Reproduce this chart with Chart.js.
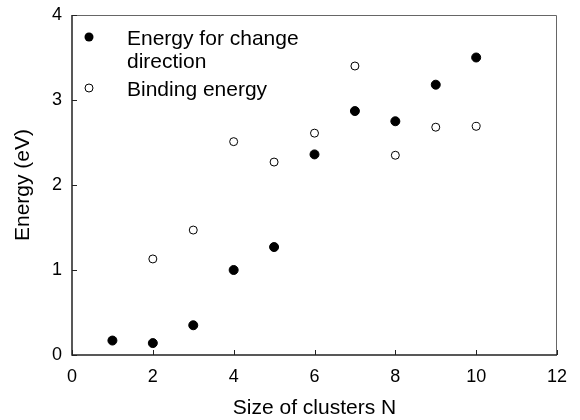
<!DOCTYPE html>
<html lang="en">
<head>
    <meta charset="UTF-8">
    <title>Energy vs cluster size</title>
    <script src="https://cdn.jsdelivr.net/npm/chart.js"></script>
    <style>
        html, body { margin: 0; padding: 0; background: #fff; }
        #wrap { width: 580px; height: 420px; }
    </style>
</head>
<body>
    <div id="wrap"><canvas id="energyChart"></canvas></div>
    <script>
        // data
        const clusterSize = [1, 2, 3, 4, 5, 6, 7, 8, 9, 10];
        const changeDirEnergy = [0.17, 0.14, 0.35, 1.00, 1.27, 2.36, 2.87, 2.75, 3.18, 3.50];
        const bindingSize = [2, 3, 4, 5, 6, 7, 8, 9, 10];
        const bindingEnergy = [1.13, 1.47, 2.51, 2.27, 2.61, 3.40, 2.35, 2.68, 2.69];
        const xTicks = [0, 2, 4, 6, 8, 10, 12];
        const yTicks = [0, 1, 2, 3, 4];

        const FONT = "'Liberation Sans', Arial, Helvetica, sans-serif";

        function toPoints(xs, ys) {
            return xs.map((x, i) => ({ x: x, y: ys[i] }));
        }

        // inner ticks, frame and legend drawn on top
        const framePlugin = {
            id: 'frame',
            afterDraw(chart) {
                const ctx = chart.ctx;
                const a = chart.chartArea;
                const xs = chart.scales.x, ys = chart.scales.y;
                ctx.save();
                ctx.strokeStyle = '#666';
                ctx.lineWidth = 1;
                ctx.beginPath();
                ctx.moveTo(a.left, a.top + 0.5);
                ctx.lineTo(a.right - 0.5, a.top + 0.5);
                ctx.lineTo(a.right - 0.5, a.bottom);
                ctx.stroke();

                ctx.strokeStyle = '#222';
                ctx.lineWidth = 1.5;
                ctx.beginPath();
                ctx.moveTo(a.left, a.top);
                ctx.lineTo(a.left, a.bottom);
                ctx.lineTo(a.right, a.bottom);
                ctx.stroke();

                ctx.lineWidth = 1;
                ctx.beginPath();
                xTicks.forEach(v => {
                    const px = Math.round(xs.getPixelForValue(v)) + 0.5;
                    ctx.moveTo(px, a.bottom);
                    ctx.lineTo(px, a.bottom - 5);
                });
                yTicks.forEach(v => {
                    const py = Math.round(ys.getPixelForValue(v)) + 0.5;
                    ctx.moveTo(a.left, py);
                    ctx.lineTo(a.left + 5, py);
                });
                ctx.stroke();

                // legend
                ctx.font = '21px ' + FONT;
                ctx.fillStyle = '#000';
                ctx.textBaseline = 'alphabetic';
                ctx.textAlign = 'left';
                const rows = [
                    { marker: 'filled', lines: ['Energy for change', 'direction'], cy: 37, base: 45 },
                    { marker: 'open', lines: ['Binding energy'], cy: 88, base: 96 }
                ];
                rows.forEach(r => {
                    ctx.beginPath();
                    ctx.arc(89, r.cy, r.marker === 'filled' ? 4.5 : 4, 0, Math.PI * 2);
                    if (r.marker === 'filled') {
                        ctx.fillStyle = '#000';
                        ctx.fill();
                    } else {
                        ctx.fillStyle = '#fff';
                        ctx.fill();
                        ctx.strokeStyle = '#000';
                        ctx.lineWidth = 1;
                        ctx.stroke();
                    }
                    ctx.fillStyle = '#000';
                    r.lines.forEach((t, i) => ctx.fillText(t, 127, r.base + i * 23));
                });
                ctx.restore();
            }
        };

        new Chart(document.getElementById('energyChart'), {
            type: 'scatter',
            data: {
                datasets: [{
                    label: 'Energy for change direction',
                    data: toPoints(clusterSize, changeDirEnergy),
                    backgroundColor: '#000',
                    borderColor: '#000',
                    pointRadius: 4.5,
                    pointHoverRadius: 4.5
                }, {
                    label: 'Binding energy',
                    data: toPoints(bindingSize, bindingEnergy),
                    backgroundColor: '#fff',
                    borderColor: '#000',
                    borderWidth: 1,
                    pointRadius: 4,
                    pointHoverRadius: 4
                }]
            },
            options: {
                responsive: true,
                maintainAspectRatio: false,
                animation: false,
                layout: { padding: { top: 15, right: 23, left: 0, bottom: 0 } },
                plugins: {
                    legend: { display: false },
                    tooltip: { enabled: false }
                },
                scales: {
                    x: {
                        type: 'linear',
                        min: 0,
                        max: 12,
                        afterFit: s => { s.height = 65; s.paddingLeft = 0; s.paddingRight = 0; },
                        afterBuildTicks: s => { s.ticks = xTicks.map(v => ({ value: v })); },
                        grid: { display: false, drawTicks: false },
                        border: { display: false },
                        ticks: { padding: 11, color: '#000', font: { family: FONT, size: 18 } },
                        title: {
                            display: true,
                            text: 'Size of clusters N',
                            color: '#000',
                            padding: { top: 0, bottom: -1 },
                            font: { family: FONT, size: 21 }
                        }
                    },
                    y: {
                        type: 'linear',
                        min: 0,
                        max: 4,
                        afterFit: s => { s.width = 72; s.paddingTop = 0; s.paddingBottom = 0; },
                        afterBuildTicks: s => { s.ticks = yTicks.map(v => ({ value: v })); },
                        grid: { display: false, drawTicks: false },
                        border: { display: false },
                        ticks: { padding: 10, color: '#000', font: { family: FONT, size: 18 } },
                        title: {
                            display: true,
                            text: 'Energy (eV)',
                            color: '#000',
                            padding: { top: 11, bottom: 0 },
                            font: { family: FONT, size: 21 }
                        }
                    }
                }
            },
            plugins: [framePlugin]
        });
    </script>
</body>
</html>
